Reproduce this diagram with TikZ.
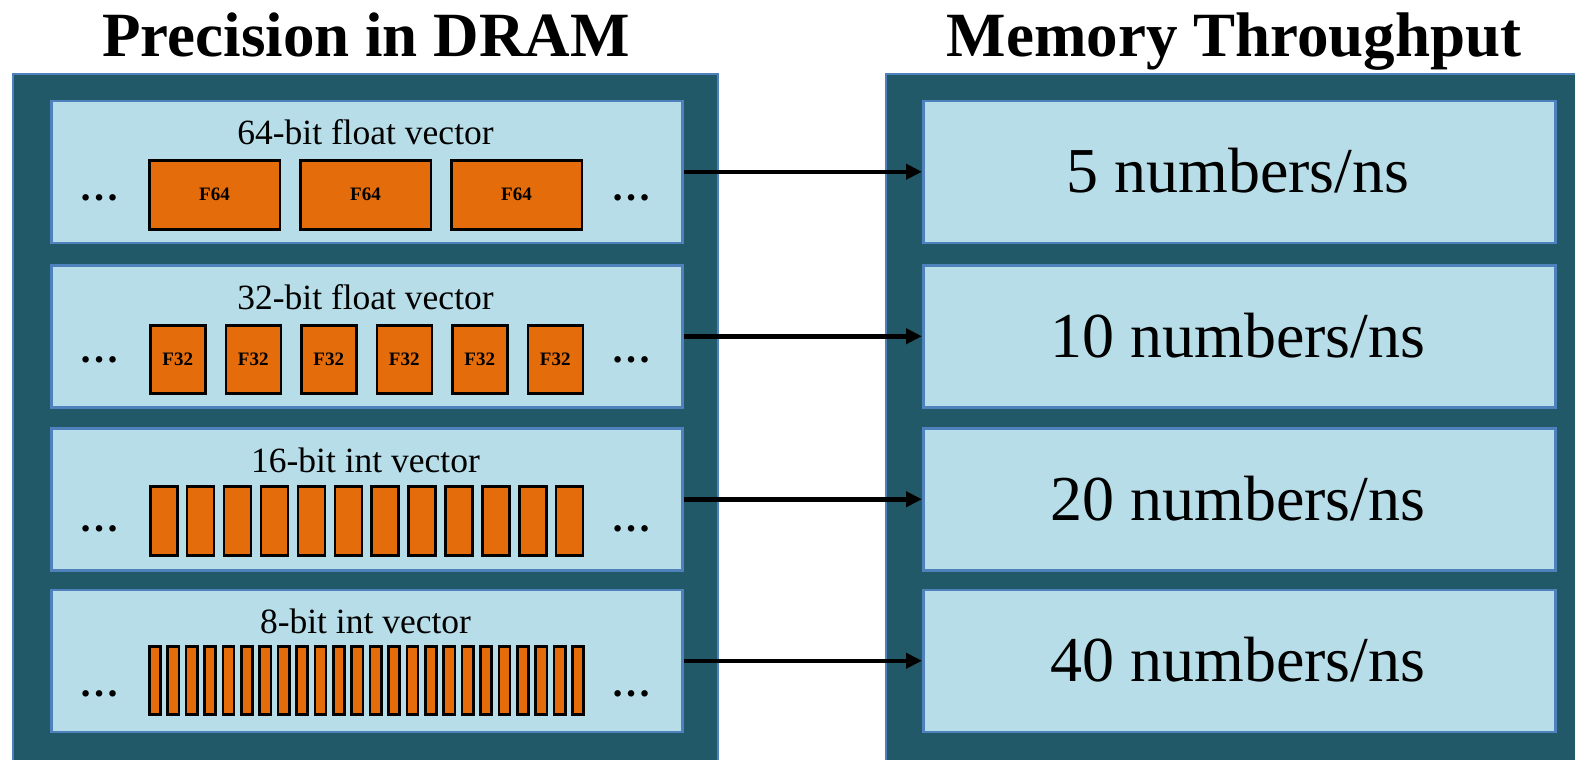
\documentclass[tikz,border=0pt]{standalone}
\usepackage{fontspec}
\setmainfont{Liberation Serif}
\usetikzlibrary{arrows.meta}
\definecolor{darkteal}{HTML}{215968}
\definecolor{paleblue}{HTML}{B7DEE8}
\definecolor{edgeblue}{HTML}{4F81BD}
\definecolor{cellorange}{HTML}{E46C0A}
\tikzset{
  outerbox/.style={draw=edgeblue, fill=darkteal, line width=2.5pt},
  rowbox/.style={draw=edgeblue, fill=paleblue, line width=2.5pt, anchor=north west, inner sep=0pt},
  cell/.style={draw=black, fill=cellorange, line width=2.5pt, anchor=north west, inner sep=0pt,
     font=\bfseries\fontsize{19}{22}\selectfont},
  title/.style={font=\bfseries\fontsize{63}{68}\selectfont, anchor=base},
  rowlabel/.style={font=\fontsize{35.5}{40}\selectfont, anchor=base},
  ratelabel/.style={font=\fontsize{64}{68}\selectfont, anchor=base},
  dots/.style={font=\bfseries\fontsize{40}{44}\selectfont, anchor=base},
  link/.style={line width=4.5pt, -{Triangle[length=16pt,width=15pt]}}
}
\begin{document}
\begin{tikzpicture}[x=1pt,y=-1pt]
\useasboundingbox[fill=white] (0,0) rectangle (1575,760);
% titles
\node[title] (t1) at (366,56.7) {Precision in DRAM};
\node[title] (t2) at (1234,56.7) {Memory Throughput};
% outer frames
\draw[outerbox] (13,74) rectangle (718,790);
\draw[outerbox] (886,74) rectangle (1600,790);
% rows
\foreach \n/\top in {1/99.5,2/264,3/427,4/588.5}{
  \node[rowbox, minimum width=631pt, minimum height=142pt] (L\n) at (50,\top) {};
  \node[rowbox, minimum width=632pt, minimum height=142pt] (R\n) at (922,\top) {};
}
% row labels
\node[rowlabel] (lab1) at (365.5,144.5) {64-bit float vector};
\node[rowlabel] (lab2) at (365.5,309) {32-bit float vector};
\node[rowlabel] (lab3) at (365.5,472) {16-bit int vector};
\node[rowlabel] (lab4) at (365.5,633.5) {8-bit int vector};
% dots
\foreach \n/\y in {1/200.5,2/362,3/531.5,4/696.5}{
  \node[dots] (dl\n) at (99,\y) {…};
  \node[dots] (dr\n) at (631.5,\y) {…};
}
% cells
\foreach \i in {0,1,2}{
  \node[cell, minimum width=130.5pt, minimum height=69pt] (f64-\i) at ({148+151*\i},159) {F64};
}
\foreach \i in {0,...,5}{
  \node[cell, minimum width=55pt, minimum height=68pt] (f32-\i) at ({149+75.5*\i},324) {F32};
}
\foreach \i in {0,...,11}{
  \node[cell, minimum width=27pt, minimum height=69pt] (i16-\i) at ({149+36.9*\i},485) {};
}
\foreach \i in {0,...,23}{
  \node[cell, minimum width=11.2pt, minimum height=68pt] (i8-\i) at ({148+18.4*\i},645) {};
}
% rates
\node[ratelabel] (rate1) at (1238,192.5) {5 numbers/ns};
\node[ratelabel] (rate2) at (1238,357) {10 numbers/ns};
\node[ratelabel] (rate3) at (1238,520) {20 numbers/ns};
\node[ratelabel] (rate4) at (1238,681.5) {40 numbers/ns};
% arrows
\foreach \n in {1,2,3,4}{
  \draw[link] (L\n.east) -- (R\n.west);
}
\end{tikzpicture}
\end{document}
